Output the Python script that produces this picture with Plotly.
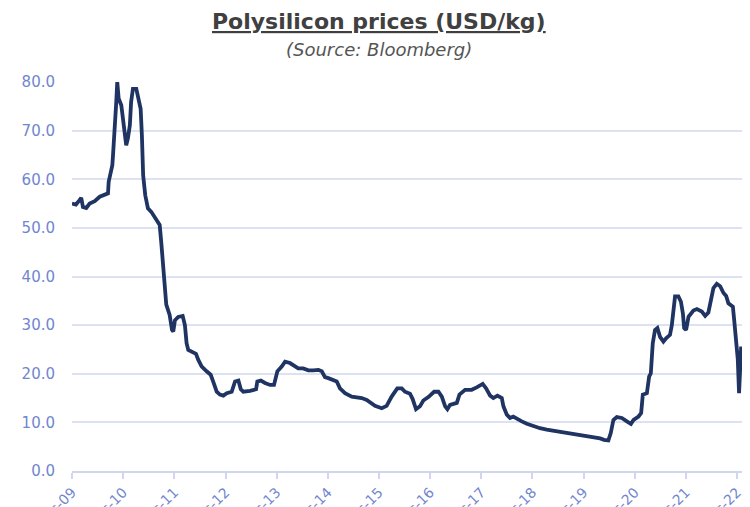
import plotly.graph_objects as go

dates = [
    "2009-12-01", "2009-12-29", "2010-01-24", "2010-02-05", "2010-02-17", "2010-03-13",
    "2010-04-06", "2010-05-12", "2010-06-17", "2010-07-22", "2010-08-15", "2010-08-20",
    "2010-09-03", "2010-09-15", "2010-09-20", "2010-10-02", "2010-10-13", "2010-10-20",
    "2010-10-30", "2010-11-18", "2010-11-30", "2010-12-16", "2010-12-23", "2011-01-04",
    "2011-01-18", "2011-01-27", "2011-02-09", "2011-03-05", "2011-03-22", "2011-04-05",
    "2011-04-14", "2011-04-23", "2011-05-08", "2011-05-27", "2011-06-20", "2011-07-19",
    "2011-08-07", "2011-08-19", "2011-08-30", "2011-09-12", "2011-09-24", "2011-10-05",
    "2011-10-29", "2011-11-15", "2011-11-24", "2011-12-06", "2011-12-29", "2012-01-30",
    "2012-02-15", "2012-02-27", "2012-03-10", "2012-04-03", "2012-05-04", "2012-05-20",
    "2012-06-13", "2012-07-19", "2012-08-17", "2012-09-04", "2012-09-29", "2012-10-22",
    "2012-11-15", "2012-12-10", "2013-01-14", "2013-02-07", "2013-03-03", "2013-03-20",
    "2013-04-07", "2013-05-25", "2013-07-07", "2013-07-16", "2013-08-10", "2013-09-09",
    "2013-10-15", "2013-11-12", "2013-12-06", "2014-01-06", "2014-01-30", "2014-03-06",
    "2014-04-04", "2014-05-04", "2014-06-09", "2014-07-15", "2014-08-20", "2014-09-25",
    "2014-10-19", "2014-11-11", "2014-12-05", "2015-01-09", "2015-02-03", "2015-02-26",
    "2015-04-03", "2015-05-21", "2015-06-26", "2015-07-31", "2015-09-05", "2015-11-03",
    "2015-12-21", "2016-01-25", "2016-03-01", "2016-04-10", "2016-05-12", "2016-06-04",
    "2016-07-10", "2016-07-29", "2016-08-22", "2016-09-19", "2016-10-13", "2016-11-18",
    "2016-12-29", "2017-01-29", "2017-02-22", "2017-03-18", "2017-04-03", "2017-04-22",
    "2017-06-09", "2017-06-28", "2017-08-07", "2017-09-23", "2017-10-29", "2017-12-11",
    "2018-01-04", "2018-02-02", "2018-02-25", "2018-03-26", "2018-04-26", "2018-05-08",
    "2018-06-01", "2018-06-24", "2018-07-17", "2018-08-11", "2018-09-16", "2018-10-22",
    "2018-12-08", "2019-01-24", "2019-03-13", "2019-04-29", "2019-06-16", "2019-08-03",
    "2019-09-19", "2019-11-06", "2019-12-24", "2020-02-09", "2020-03-28", "2020-04-25",
    "2020-05-26", "2020-06-12", "2020-07-01", "2020-07-25", "2020-08-30", "2020-10-05",
    "2020-11-03", "2020-11-22", "2020-12-27", "2021-01-15", "2021-01-27", "2021-02-25",
    "2021-03-13", "2021-03-25", "2021-04-08", "2021-04-24", "2021-05-11", "2021-05-30",
    "2021-06-23", "2021-07-12", "2021-08-09", "2021-08-22", "2021-09-02", "2021-09-14",
    "2021-10-08", "2021-10-26", "2021-11-09", "2021-11-18", "2021-12-02", "2021-12-19",
    "2022-01-23", "2022-02-17", "2022-03-24", "2022-04-17", "2022-05-10", "2022-05-30",
    "2022-06-15", "2022-07-09", "2022-08-02", "2022-08-26", "2022-09-14", "2022-09-30",
    "2022-11-01", "2022-11-10", "2022-11-24", "2022-12-06", "2022-12-15", "2022-12-22",
    "2022-12-30",
]

prices = [
    55.0, 54.8, 55.7, 56.2, 54.3, 54.1,
    55.0, 55.5, 56.4, 56.7, 57.1, 59.5,
    61.2, 62.9, 65.0, 69.7, 75.9, 80.0,
    76.6, 75.2, 72.5, 69.7, 67.0, 68.4,
    71.1, 75.9, 78.6, 78.6, 76.6, 74.5,
    69.0, 60.8, 56.7, 54.0, 53.3, 52.0,
    50.9, 50.6, 47.1, 41.7, 37.6, 34.2,
    32.1, 29.0, 28.7, 31.0, 31.7, 31.9,
    30.0, 26.3, 24.9, 24.6, 24.1, 22.9,
    21.5, 20.5, 19.8, 18.4, 16.3, 15.7,
    15.5, 16.0, 16.3, 18.4, 18.6, 16.8,
    16.3, 16.5, 16.8, 18.4, 18.6, 18.1,
    17.7, 17.7, 20.5, 21.5, 22.5, 22.2,
    21.6, 21.1, 21.1, 20.7, 20.7, 20.8,
    20.5, 19.3, 19.1, 18.7, 18.4, 17.0,
    16.0, 15.3, 15.2, 15.0, 14.6, 13.4,
    12.9, 13.4, 15.3, 17.0, 17.0, 16.3,
    15.9, 14.8, 12.7, 13.3, 14.5, 15.2,
    16.3, 16.3, 15.3, 13.3, 12.7, 13.6,
    14.0, 15.7, 16.7, 16.7, 17.2, 17.9,
    17.0, 15.5, 15.0, 15.5, 15.0, 13.3,
    11.6, 10.9, 11.2, 10.7, 10.2, 9.7,
    9.2, 8.8, 8.5, 8.3, 8.1, 7.8,
    7.7, 7.3, 7.1, 7.0, 6.7, 6.4,
    6.3, 7.8, 10.5, 11.1, 10.9, 10.2,
    9.7, 10.5, 11.2, 11.9, 15.7, 16.0,
    19.4, 20.1, 26.3, 29.0, 29.4, 27.6,
    26.6, 27.3, 28.0, 30.0, 33.8, 35.9,
    35.9, 34.8, 32.4, 29.4, 29.0, 31.7,
    33.0, 33.3, 32.8, 31.9, 32.6, 35.2,
    37.6, 38.5, 38.0, 36.6, 36.0, 34.5,
    33.8, 31.1, 26.3, 22.9, 16.0, 19.4,
    25.6,
]

tick_dates = [f"{y}-12-01" for y in range(2009, 2023)]
tick_labels = [f"Dec-{y % 100:02d}" for y in range(2009, 2023)]
y_ticks = [0, 10, 20, 30, 40, 50, 60, 70, 80]
y_tick_labels = [f"{v:.1f}" for v in y_ticks]

LABEL_COLOR = "#7086cf"
GRID_COLOR = "#dde2f2"
LINE_COLOR = "#1f3462"
FONT = "DejaVu Sans"

fig = go.Figure()
fig.add_trace(go.Scatter(
    x=dates, y=prices, mode="lines",
    line=dict(color=LINE_COLOR, width=3.8),
    hoverinfo="x+y", showlegend=False,
))

fig.update_layout(
    width=742, height=507,
    margin=dict(l=64, r=8, t=74, b=44, autoexpand=False),
    paper_bgcolor="white", plot_bgcolor="white",
    font=dict(family=FONT, color=LABEL_COLOR, size=14),
    xaxis=dict(
        type="date",
        range=["2009-12-01", "2023-01-05"],
        tickvals=tick_dates, ticktext=tick_labels,
        tickangle=-45,
        showgrid=False, zeroline=False,
        showline=True, linecolor="#cfd6ee", linewidth=1.5,
        ticks="outside", ticklen=6, tickcolor="#cfd6ee", tickwidth=1.5,
        tickfont=dict(size=14, color=LABEL_COLOR, family=FONT),
        automargin=False,
    ),
    yaxis=dict(
        range=[0, 80],
        tickvals=y_ticks, ticktext=y_tick_labels,
        showgrid=True, gridcolor=GRID_COLOR, gridwidth=1.5,
        zeroline=False, showline=False,
        ticks="outside", ticklen=13, tickcolor="rgba(0,0,0,0)",
        tickfont=dict(size=15, color=LABEL_COLOR, family=FONT),
        automargin=False,
    ),
    annotations=[
        dict(text="<b><u>Polysilicon prices (USD/kg)</u></b>",
             xref="paper", yref="paper", x=0.458, y=1.155,
             xanchor="center", yanchor="middle", showarrow=False,
             font=dict(family=FONT, size=22, color="#404040")),
        dict(text="<i>(Source: Bloomberg)</i>",
             xref="paper", yref="paper", x=0.458, y=1.083,
             xanchor="center", yanchor="middle", showarrow=False,
             font=dict(family=FONT, size=18, color="#555555")),
    ],
)

fig.write_html("out.html")
